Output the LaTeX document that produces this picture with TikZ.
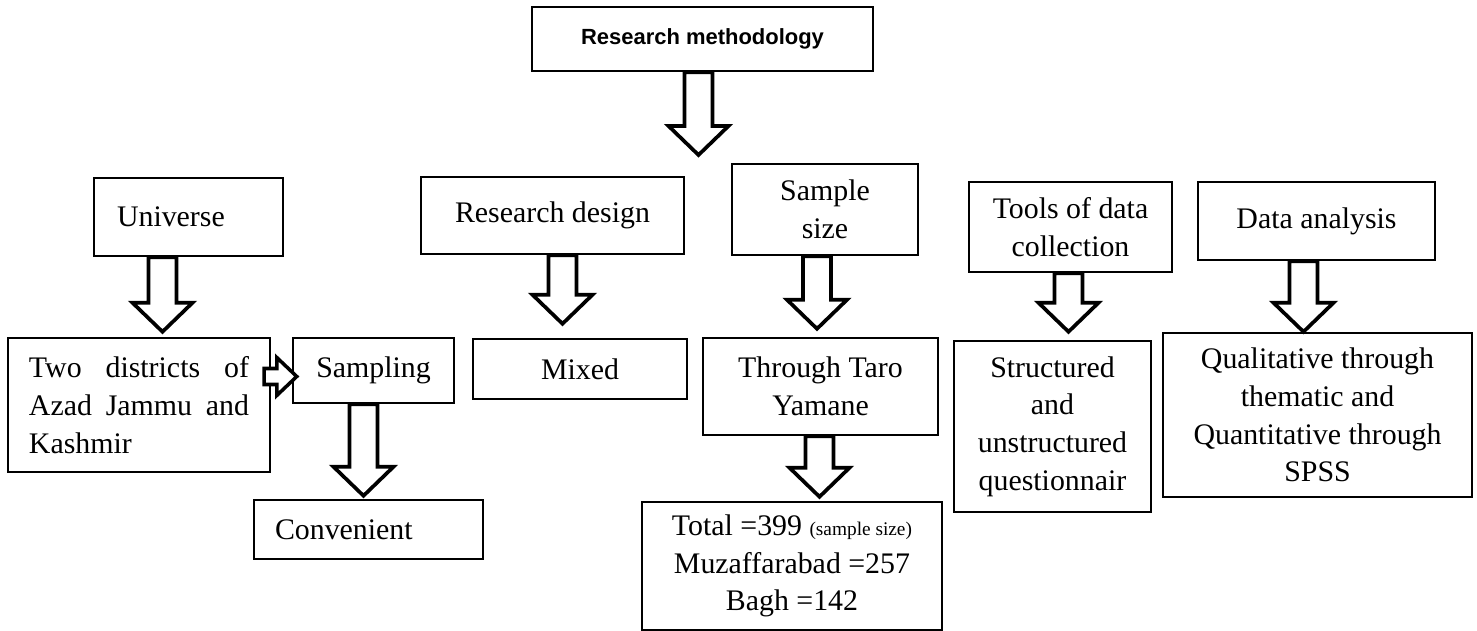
\documentclass[tikz,border=0pt]{standalone}
\usepackage{fontspec}
\setmainfont{Liberation Serif}
\setsansfont{Liberation Sans}
\usetikzlibrary{calc}

\newcommand{\boxfont}{\fontsize{17}{21.5}\selectfont}
\newcommand{\headfont}{\sffamily\bfseries\fontsize{12.5}{15}\selectfont}
\newcommand{\notefont}{\fontsize{11}{13}\selectfont}

\def\px{0.02cm}

\tikzset{
	box/.style={draw, line width=1.4pt, inner sep=0pt, align=center, font=\boxfont},
	blockarrow/.style={draw, line width=2.1pt, line join=miter, fill=white},
}

% hollow arrow going down: #1 top of shaft, #2 tip
\newcommand{\bigarrow}[2]{%
	\draw[blockarrow] let \p1=#1, \p2=#2 in
		(\x1-14*\px,\y1) -- (\x1-14*\px,\y2+29*\px) -- (\x1-30*\px,\y2+29*\px) -- (\x1,\y2)
		-- (\x1+30*\px,\y2+29*\px) -- (\x1+14*\px,\y2+29*\px) -- (\x1+14*\px,\y1) -- cycle;
}
% small hollow arrow going right: #1 start, #2 tip
\newcommand{\sidearrow}[2]{%
	\draw[blockarrow, line width=2pt] let \p1=#1, \p2=#2 in
		(\x1,\y1+8*\px) -- (\x2-20*\px,\y1+8*\px) -- (\x2-20*\px,\y1+19*\px) -- (\x2,\y1)
		-- (\x2-20*\px,\y1-19*\px) -- (\x2-20*\px,\y1-8*\px) -- (\x1,\y1-8*\px) -- cycle;
}

\begin{document}
\begin{tikzpicture}[x=\px, y=-\px]
	\useasboundingbox (0,0) rectangle (1477,631);
	
	% top
	\node[box, font=\headfont, minimum width=341*\px, minimum height=64*\px] (meth) at (702.5,39) {Research methodology};
	\coordinate (methtip) at (699,155);
	
	% second row
	\node[box, align=left, text width=143*\px, inner xsep=23*\px, minimum height=78*\px] (uni) at (188.5,217) {Universe};
	\node[box, minimum width=263*\px, minimum height=77*\px] (design) at (552.5,215.5) {Research design};
	\node[box, minimum width=186*\px, minimum height=91*\px] (sample) at (825,209.5) {Sample\\size};
	\node[box, minimum width=203*\px, minimum height=90*\px] (tools) at (1070.5,227) {Tools of data\\collection};
	\node[box, minimum width=237*\px, minimum height=78*\px] (analysis) at (1316.5,221) {Data analysis};
	
	% third row
	\node[box, align=left, text width=220*\px, inner xsep=21*\px, minimum height=134*\px] (districts) at (139,405) {Two\hfill districts\hfill of\\Azad\hfill Jammu\hfill and\\Kashmir};
	\node[box, minimum width=161*\px, minimum height=65*\px] (sampling) at (373.5,370.5) {Sampling};
	\node[box, minimum width=214*\px, minimum height=60*\px] (mixed) at (580,369) {Mixed};
	\node[box, minimum width=235*\px, minimum height=97*\px] (taro) at (820.5,386.5) {Through Taro\\Yamane};
	\node[box, minimum width=197*\px, minimum height=171*\px] (struct) at (1052.5,426.5) {Structured\\and\\unstructured\\questionnair};
	\node[box, minimum width=309*\px, minimum height=164*\px] (qual) at (1317.5,415) {Qualitative through\\thematic and\\Quantitative through\\SPSS};
	
	% last row
	\node[box, align=left, text width=187*\px, inner xsep=21*\px, minimum height=59*\px] (conv) at (368.5,529.5) {Convenient};
	\node[box, minimum width=300*\px, minimum height=128*\px] (total) at (792,566) {Total =399 {\notefont(sample size)}\\Muzaffarabad =257\\Bagh =142};
	
	% arrows
	\bigarrow{($(meth.south)+(-4,0)$)}{(methtip)}
	\bigarrow{($(uni.south)+(-26,0)$)}{($(districts.north)+(0,-5)$)}
	\bigarrow{($(design.south)+(10,0)$)}{($(mixed.north)+(0,-14)$)}
	\bigarrow{($(sample.south)+(-8,0)$)}{($(taro.north)+(0,-8)$)}
	\bigarrow{($(tools.south)+(-2,0)$)}{($(struct.north)+(0,-8)$)}
	\bigarrow{($(analysis.south)+(-13,0)$)}{(qual.north)}
	\bigarrow{($(sampling.south)+(-10,0)$)}{($(conv.north)+(0,-3)$)}
	\bigarrow{($(taro.south)+(-1,0)$)}{($(total.north)+(0,-4)$)}
	\sidearrow{($(districts.east |- sampling.west)+(-7,6)$)}{($(sampling.west)+(5,6)$)}
\end{tikzpicture}
\end{document}
